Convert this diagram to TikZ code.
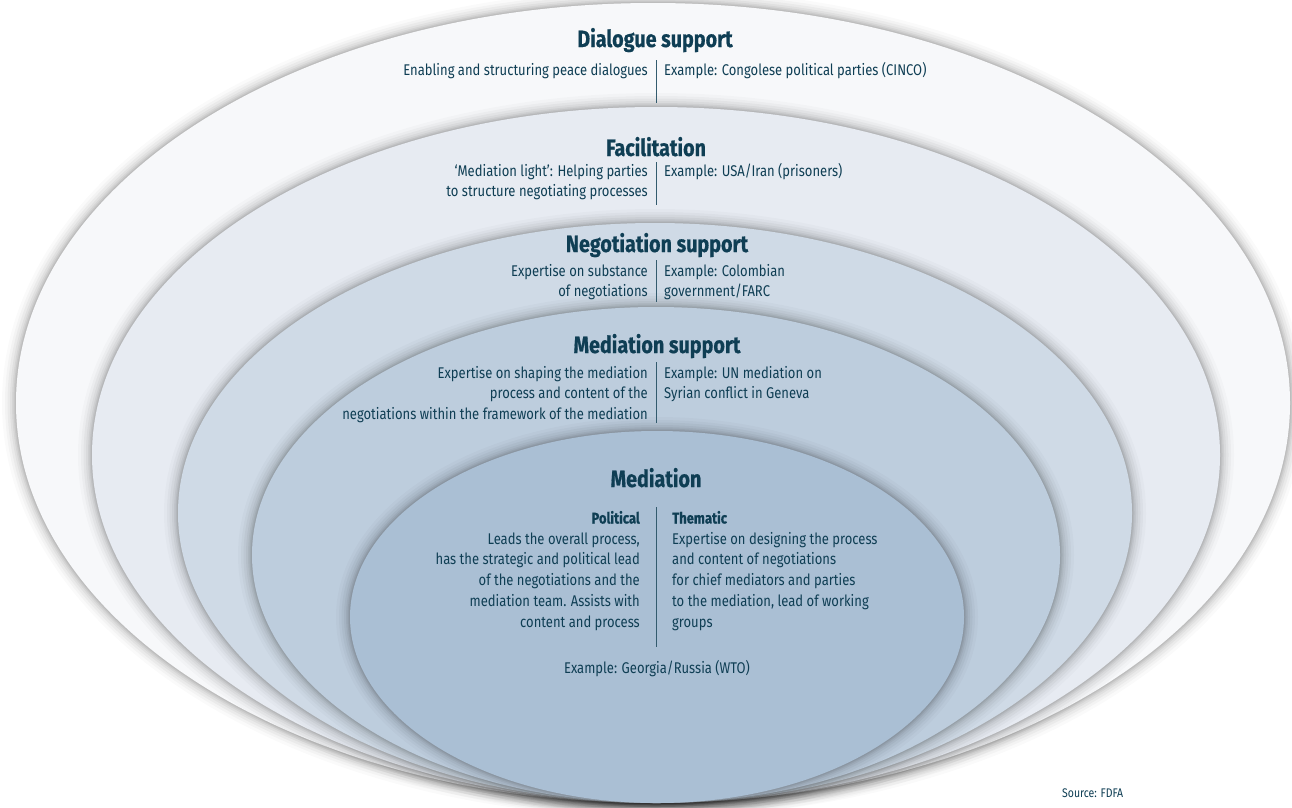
\documentclass[tikz,border=0pt]{standalone}
\usepackage{fontspec}
\setmainfont[FakeStretch=0.84, BoldFeatures={FakeBold=0.6}]{Fira Sans}
\definecolor{txt}{HTML}{0F3E54}
\definecolor{ringA}{HTML}{F7F8FA}
\definecolor{ringB}{HTML}{E7EBF2}
\definecolor{ringC}{HTML}{CFDAE6}
\definecolor{ringD}{HTML}{BDCDDD}
\definecolor{ringE}{HTML}{AABFD4}
\newcommand\ringshadow[4]{%
  \foreach \w/\o in {28/0.02, 22/0.028, 17/0.034, 12/0.04, 8/0.048, 5/0.055, 2.5/0.06}{%
    \draw[black, opacity=\o, line width=\w pt] (#1,#2) ellipse [x radius=#3, y radius=#4];}%
}
\newcommand\ring[5]{%
  \ringshadow{#1}{#2}{#3}{#4}%
  \fill[#5] (#1,#2) ellipse [x radius=#3, y radius=#4];%
}
\begin{document}
\begin{tikzpicture}[x=1pt,y=-1pt,
  body/.style={font=\fontsize{15.5}{20.7}\selectfont, text=txt, inner sep=0pt},
  ttl/.style={font=\fontsize{23.5}{26}\selectfont\bfseries, text=txt, inner sep=0pt, anchor=base},
  lft/.style={body, align=right, anchor=base east},
  rgt/.style={body, align=left, anchor=base west},
  divider/.style={draw=txt!85, line width=0.8pt}]
\useasboundingbox (0,0) rectangle (1292,807);
\clip (0,0) rectangle (1292,807);
\fill[white] (0,0) rectangle (1292,807);
\ring{653}{403}{637}{400}{ringA}
\ring{656}{455}{564}{348}{ringB}
\ring{655}{513}{477}{290}{ringC}
\ring{656}{555}{404}{248}{ringD}
\ring{657}{617}{307}{186}{ringE}

\node[ttl] (t1) at (655,47) {Dialogue support};
\node[lft] (l1) at (648,75) {Enabling and structuring peace dialogues};
\node[rgt] (r1) at (664,75) {Example: Congolese political parties (CINCO)};
\draw[divider] (656,60) -- (656,103);

\node[ttl] (t2) at (656,156) {Facilitation};
\node[lft] (l2) at (648,196.7) {‘Mediation light’: Helping parties\\to structure negotiating processes};
\node[rgt] (r2) at (664,176) {Example: USA/Iran (prisoners)};
\draw[divider] (656,162) -- (656,205);

\node[ttl] (t3) at (657,252) {Negotiation support};
\node[lft] (l3) at (648,296.7) {Expertise on substance\\of negotiations};
\node[rgt] (r3) at (664,296.7) {Example: Colombian\\government/FARC};
\draw[divider] (656,260) -- (656,302);

\node[ttl] (t4) at (657,353) {Mediation support};
\node[lft] (l4) at (648,419.4) {Expertise on shaping the mediation\\process and content of the\\negotiations within the framework of the mediation};
\node[rgt] (r4) at (664,398.7) {Example: UN mediation on\\Syrian conflict in Geneva};
\draw[divider] (656,362) -- (656,423);

\node[ttl] (t5) at (656,487) {Mediation};
\node[lft] (l5) at (640,627) {\textbf{Political}\\Leads the overall process,\\has the strategic and political lead\\of the negotiations and the\\mediation team. Assists with\\content and process};
\node[rgt] (r5) at (672,627) {\textbf{Thematic}\\Expertise on designing the process\\and content of negotiations\\for chief mediators and parties\\to the mediation, lead of working\\groups};
\draw[divider] (656,507) -- (656,647);
\node[body, anchor=base] (ex5) at (657,673) {Example: Georgia/Russia (WTO)};

\node[body, font=\fontsize{12.5}{14}\selectfont, anchor=base west] (src) at (1062,797) {Source: FDFA};
\end{tikzpicture}
\end{document}
